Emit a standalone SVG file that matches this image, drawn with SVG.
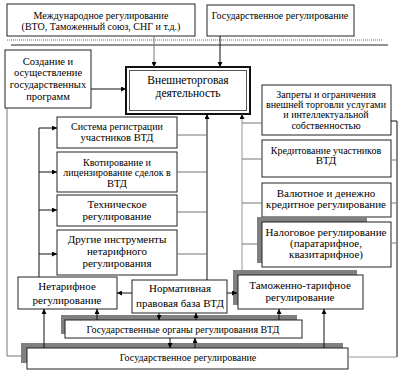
<svg xmlns="http://www.w3.org/2000/svg" width="406" height="380" viewBox="0 0 406 380">
<style>
.b{fill:#fff;stroke:#222;stroke-width:1}
.s{fill:#808080}
text{fill:#000;text-anchor:middle}
.c{fill:none;stroke:#111;stroke-width:1}
.g{fill:none;stroke:#999;stroke-width:1}
.d{fill:none;stroke:#777;stroke-width:1}
</style>
<defs>
<marker id="a" markerWidth="5" markerHeight="5" refX="5" refY="2.5" orient="auto" markerUnits="userSpaceOnUse">
<path d="M0,0 L5,2.5 L0,5 z" fill="#000"/>
</marker>
</defs>
<rect width="406" height="380" fill="#fff"/>
<line x1="7" y1="40" x2="383" y2="40" stroke="#999" stroke-width="1.5" stroke-dasharray="1,1"/>
<line x1="11" y1="45" x2="388" y2="45" stroke="#222" stroke-width="1"/>

<g id="intl"><rect class="b" x="7" y="4" width="188" height="32"/>
<text x="101" y="18.5" style="font-family:'Liberation Serif',serif;font-size:10px">Международное регулирование</text>
<text x="101" y="29.5" style="font-family:'Liberation Serif',serif;font-size:10px">(ВТО, Таможенный союз, СНГ и т.д.)</text></g>
<g id="state-top"><rect class="b" x="207" y="5" width="147" height="31"/>
<text x="280" y="18.5" style="font-family:'Liberation Serif',serif;font-size:10px">Государственное регулирование</text></g>
<g id="programs"><rect class="b" x="5" y="50" width="86" height="58"/>
<text x="48" y="64.5" style="font-family:'Liberation Serif',serif;font-size:10.5px">Создание и</text>
<text x="48" y="76" style="font-family:'Liberation Serif',serif;font-size:10.5px">осуществление</text>
<text x="48" y="87.5" style="font-family:'Liberation Serif',serif;font-size:10.5px">государственных</text>
<text x="48" y="99.5" style="font-family:'Liberation Serif',serif;font-size:10.5px">программ</text></g>
<g id="ftd"><rect x="126" y="67" width="124" height="47" fill="#fff" stroke="#111" stroke-width="2"/>
<rect x="129.5" y="70.5" width="117" height="40" fill="none" stroke="#555" stroke-width="1"/>
<text x="188" y="84" style="font-family:'Liberation Serif',serif;font-size:11.5px">Внешнеторговая</text>
<text x="188" y="97" style="font-family:'Liberation Serif',serif;font-size:11.5px">деятельность</text></g>

<g id="reg-sys"><rect class="b" x="57" y="117" width="120" height="31"/>
<text x="117" y="129.5" style="font-family:'Liberation Serif',serif;font-size:10px">Система регистрации</text>
<text x="117" y="141" style="font-family:'Liberation Serif',serif;font-size:10.5px">участников ВТД</text></g>
<g id="quota"><rect class="b" x="57" y="152" width="120" height="40"/>
<text x="117" y="165.5" style="font-family:'Liberation Serif',serif;font-size:10px">Квотирование и</text>
<text x="117" y="176" style="font-family:'Liberation Serif',serif;font-size:10px">лицензирование сделок в</text>
<text x="117" y="187" style="font-family:'Liberation Serif',serif;font-size:10.5px">ВТД</text></g>
<g id="tech"><rect class="b" x="57" y="195" width="120" height="31"/>
<text x="117" y="208" style="font-family:'Liberation Serif',serif;font-size:11px">Техническое</text>
<text x="117" y="220" style="font-family:'Liberation Serif',serif;font-size:11px">регулирование</text></g>
<g id="other"><rect class="b" x="57" y="230" width="120" height="45"/>
<text x="117" y="243" style="font-family:'Liberation Serif',serif;font-size:11px">Другие инструменты</text>
<text x="117" y="255" style="font-family:'Liberation Serif',serif;font-size:11px">нетарифного</text>
<text x="117" y="267" style="font-family:'Liberation Serif',serif;font-size:11px">регулирования</text></g>

<g id="bans"><rect class="b" x="262" y="85" width="129" height="50"/>
<text x="326" y="97.5" style="font-family:'Liberation Serif',serif;font-size:10px">Запреты и ограничения</text>
<text x="326" y="108" style="font-family:'Liberation Serif',serif;font-size:10px">внешней торговли услугами</text>
<text x="326" y="118" style="font-family:'Liberation Serif',serif;font-size:10px">и интеллектуальной</text>
<text x="326" y="128.5" style="font-family:'Liberation Serif',serif;font-size:10px">собственностью</text></g>
<g id="credit"><rect class="b" x="262" y="140" width="129" height="37"/>
<text x="326" y="153.5" style="font-family:'Liberation Serif',serif;font-size:10px">Кредитование участников</text>
<text x="326" y="164" style="font-family:'Liberation Serif',serif;font-size:11px">ВТД</text></g>
<g id="currency"><rect class="b" x="262" y="183" width="129" height="34"/>
<text x="326" y="197" style="font-family:'Liberation Serif',serif;font-size:11px">Валютное и денежно</text>
<text x="326" y="208" style="font-family:'Liberation Serif',serif;font-size:11px">кредитное регулирование</text></g>
<g id="tax"><rect class="s" x="257" y="217" width="110" height="46"/>
<rect class="b" x="262" y="222" width="129" height="45"/>
<text x="326" y="236" style="font-family:'Liberation Serif',serif;font-size:11px">Налоговое регулирование</text>
<text x="326" y="247" style="font-family:'Liberation Serif',serif;font-size:11px">(паратарифное,</text>
<text x="326" y="258" style="font-family:'Liberation Serif',serif;font-size:11px">квазитарифное)</text></g>

<g id="nontariff"><rect class="b" x="18" y="277" width="99" height="32"/>
<text x="67" y="290" style="font-family:'Liberation Serif',serif;font-size:11px">Нетарифное</text>
<text x="67" y="304" style="font-family:'Liberation Serif',serif;font-size:11px">регулирование</text></g>
<g id="legal"><rect class="b" x="132" y="280" width="95" height="33"/>
<text x="180" y="292" style="font-family:'Liberation Serif',serif;font-size:11px">Нормативная</text>
<text x="180" y="307" style="font-family:'Liberation Serif',serif;font-size:11px">правовая база ВТД</text></g>
<g id="customs"><rect class="s" x="233" y="270" width="124" height="35"/>
<rect class="b" x="238" y="275" width="125" height="34"/>
<text x="300" y="289" style="font-family:'Liberation Serif',serif;font-size:11px">Таможенно-тарифное</text>
<text x="300" y="301" style="font-family:'Liberation Serif',serif;font-size:11px">регулирование</text></g>
<g id="organs"><rect class="s" x="61" y="315" width="236" height="19"/>
<rect class="b" x="65" y="320" width="237" height="18"/>
<text x="183" y="333" style="font-family:'Liberation Serif',serif;font-size:10px">Государственные органы регулирования ВТД</text></g>
<g id="state-bottom"><rect class="s" x="21" y="343" width="322" height="20"/>
<rect class="b" x="27" y="348" width="321" height="21"/>
<text x="188" y="360.5" style="font-family:'Liberation Serif',serif;font-size:10px">Государственное регулирование</text></g>

<g id="connectors">
<path class="d" d="M154,36 V67" marker-end="url(#a)"/>
<path class="c" d="M220,36 V67" marker-end="url(#a)"/>
<path class="c" d="M91,89 H126" marker-end="url(#a)"/>
<path class="c" d="M39,277 V128 H57" marker-end="url(#a)"/>
<path class="c" d="M39,172 H57" marker-end="url(#a)"/>
<path class="c" d="M39,210 H57" marker-end="url(#a)"/>
<path class="c" d="M39,254 H57" marker-end="url(#a)"/>
<path class="c" d="M207,280 V114" marker-end="url(#a)"/>
<path class="d" d="M177,135 H207 M177,172 H207 M177,212 H207 M177,254 H207"/>
<path class="g" d="M242,270 V114" marker-end="url(#a)"/>
<path class="d" d="M242,123 H262 M242,159 H262 M242,203 H262 M242,244 H262"/>
<path class="c" d="M391,121 H397 V357"/>
<path class="d" d="M391,160 H397 M391,203 H397 M391,243 H397"/>
<path class="g" d="M397,357 H348"/>
<path class="d" d="M7,108 V356 H21"/>
<path class="c" d="M132,293 H117" marker-end="url(#a)"/>
<path class="c" d="M227,293 H237" marker-end="url(#a)"/>
<path class="c" d="M44,348 V309" marker-end="url(#a)"/>
<path class="c" d="M97,320 V309" marker-end="url(#a)"/>
<path class="c" d="M159,313 V320" marker-end="url(#a)"/>
<path class="c" d="M196,320 V313" marker-end="url(#a)"/>
<path class="c" d="M170,338 V348" marker-end="url(#a)"/>
<path class="c" d="M195,348 V338" marker-end="url(#a)"/>
<path class="c" d="M279,320 V309" marker-end="url(#a)"/>
<path class="c" d="M324,348 V309" marker-end="url(#a)"/>
</g>
</svg>
